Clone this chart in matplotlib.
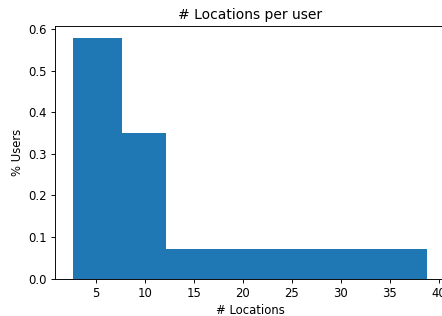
import numpy as np
import matplotlib
matplotlib.use("Agg")
import matplotlib.pyplot as plt

# bin edges and share of users
bin_edges = [2.6, 7.6, 12.1, 38.85]
user_share = [0.579, 0.350, 0.0705]

DPI = 83.4
fig = plt.figure(figsize=(442 / DPI, 316 / DPI), dpi=DPI)
ax = fig.add_axes([55 / 442, 37.3 / 316, 390 / 442, 253 / 316])

ax.hist(bin_edges[:-1], bins=bin_edges, weights=user_share, color='#1f77b4')

ax.set_title('# Locations per user')
ax.set_xlabel('# Locations')
ax.set_ylabel('% Users')

fig.savefig('out.png', dpi=DPI)
